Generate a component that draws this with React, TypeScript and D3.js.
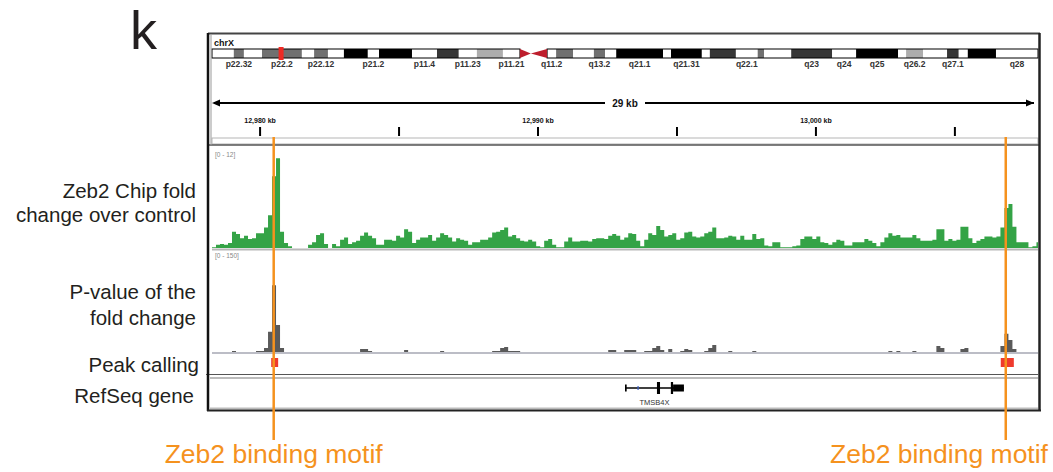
import React from 'react';
import * as d3 from 'd3';

// chrX cytobands, Mb
const bandStart = [0, 4.1, 6.0, 9.4, 16.9, 19.2, 21.8, 24.8, 29.3, 31.4, 37.6, 42.3, 46.4, 49.8, 54.7, 57.9, 63.0, 64.7, 67.9, 71.8, 73.9, 76.0, 84.8, 86.3, 92.1, 93.6, 98.5, 102.6, 103.8, 108.9, 116.6, 121.1, 129.0, 130.5, 133.7, 138.2, 140.4, 142.1, 147.4];
const bandEnd = [4.1, 6.0, 9.4, 16.9, 19.2, 21.8, 24.8, 29.3, 31.4, 37.6, 42.3, 46.4, 49.8, 54.7, 57.9, 63.0, 64.7, 67.9, 71.8, 73.9, 76.0, 84.8, 86.3, 92.1, 93.6, 98.5, 102.6, 103.8, 108.9, 116.6, 121.1, 129.0, 130.5, 133.7, 138.2, 140.4, 142.1, 147.4, 155.3];
const bandStain = ['gneg', 'gpos50', 'gneg', 'gpos50', 'gneg', 'gpos50', 'gneg', 'gpos100', 'gneg', 'gpos100', 'gneg', 'gpos75', 'gneg', 'gpos25', 'gneg', 'acen', 'gneg', 'gpos50', 'gneg', 'gpos50', 'gneg', 'gpos100', 'gneg', 'gpos100', 'gneg', 'gpos75', 'gneg', 'gpos50', 'gneg', 'gpos75', 'gneg', 'gpos100', 'gneg', 'gpos25', 'gneg', 'gpos75', 'gneg', 'gpos100', 'gneg'];
const bandLabel = ['', 'p22.32', '', 'p22.2', '', 'p22.12', '', '', 'p21.2', '', 'p11.4', '', 'p11.23', '', 'p11.21', '', 'q11.2', '', '', 'q13.2', '', 'q21.1', '', 'q21.31', '', '', 'q22.1', '', '', 'q23', 'q24', 'q25', '', 'q26.2', '', 'q27.1', '', '', 'q28'];
const chromName = 'chrX';
const chromLength = 155.3;
const viewMb = 12.99;

// locus, kb
const locusStart = 12978.27;
const locusEnd = 13007.99;
const binKb = 0.144;
const rulerTicks = [12980, 12985, 12990, 12995, 13000, 13005];

const foldChange = [
  0.1, 0.4, 0.5, 0.4, 0.6, 2.0, 1.7, 1.2, 1.5, 1.1,
  1.2, 1.8, 1.8, 2.5, 4.0, 8.8, 11.0, 2.0, 0.6, 0.2,
  0, 0, 0, 0, 0.4, 0.7, 1.6, 1.8, 0.5, 0,
  0.5, 0.2, 1.0, 1.3, 0.5, 0.7, 0.9, 1.5, 1.9, 1.5,
  1.2, 0.4, 0.4, 1.0, 1.0, 0.9, 1.5, 1.3, 2.3, 2.0,
  0.6, 1.0, 1.3, 1.3, 1.6, 0.9, 1.3, 1.8, 1.6, 1.3,
  0.8, 1.2, 1.0, 0.9, 0.4, 0.7, 0.7, 1.0, 1.0, 1.3,
  1.9, 2.0, 2.2, 2.5, 1.4, 1.6, 1.2, 0.9, 0.8, 1.0,
  0.8, 0.2, 0.1, 0.9, 1.1, 0.4, 0.1, 0.1, 0.8, 1.3,
  0.8, 0.8, 0.9, 0.9, 0.8, 1.1, 1.2, 1.2, 1.1, 1.5,
  1.7, 1.5, 1.0, 1.3, 1.8, 1.7, 0.9, 0.2, 1.0, 1.8,
  1.6, 2.7, 2.2, 1.4, 1.6, 1.8, 1.0, 1.2, 1.9, 2.0,
  1.4, 1.3, 1.4, 1.8, 2.0, 2.5, 1.2, 1.2, 1.3, 1.5,
  1.4, 1.0, 1.5, 1.0, 1.0, 1.7, 1.1, 1.2, 0.3, 0.2,
  0.7, 0.7, 0.1, 0.1, 0.1, 0.2, 0.3, 1.1, 1.4, 1.4,
  1.1, 1.4, 0.7, 0.6, 0.4, 0.7, 1.0, 0.9, 0.3, 0.3,
  0.7, 0.7, 0.7, 1.1, 0.9, 0.6, 0.2, 0.7, 1.3, 1.8,
  1.5, 1.6, 1.3, 1.3, 1.3, 1.6, 1.2, 0.9, 0.9, 0.9,
  1.0, 2.3, 2.3, 0.9, 1.1, 0.9, 1.0, 2.6, 2.6, 1.2,
  0.6, 0.9, 1.1, 1.4, 1.4, 1.3, 1.4, 2.5, 4.9, 5.4,
  2.6, 0.7, 0.7, 0.7, 0.1, 0.2, 0.7,
];

const pValue = [
  0, 0, 0, 0, 0, 1.5, 0, 0, 0, 0,
  0, 1.5, 1.5, 6, 30, 99, 40, 6, 0, 0,
  0, 0, 0, 0, 0, 0, 0, 0, 0, 0,
  0, 0, 0, 0, 0, 0, 0, 4.5, 4.5, 1.5,
  0, 0, 0, 0, 0, 0, 0, 0, 3, 0,
  0, 0, 0, 0, 0, 0, 0, 1.5, 0, 0,
  0, 0, 0, 0, 0, 0, 0, 0, 0, 0,
  1.5, 1.5, 6, 7.5, 1.5, 1.5, 1.5, 0, 0, 0,
  0, 0, 0, 0, 0, 0, 0, 0, 0, 0,
  0, 0, 0, 0, 0, 0, 0, 0, 0, 3,
  3, 0, 0, 3, 3, 3, 0, 0, 1.5, 1.5,
  6, 9, 3, 0, 4.5, 0, 0, 1.5, 4.5, 3,
  0, 0, 0, 1.5, 6, 10.5, 0, 0, 0, 1.5,
  0, 0, 0, 0, 0, 1.5, 0, 0, 0, 0,
  0, 0, 0, 0, 0, 0, 0, 0, 0, 0,
  0, 0, 0, 0, 0, 0, 0, 0, 0, 0,
  0, 0, 0, 0, 0, 0, 0, 0, 0, 1.5,
  0, 1.5, 0, 0, 0, 1.5, 0, 0, 0, 0,
  0, 9, 6, 0, 0, 0, 0, 4.5, 6, 0,
  0, 0, 0, 0, 0, 0, 0, 9, 27, 18,
  4.5, 0, 0, 0, 0, 0, 0,
];
const foldRange = [0, 12];
const pValueRange = [0, 150];

const peakStart = [12980.40, 13006.65];
const peakEnd = [12980.65, 13007.12];
const motifPos = [12980.49, 13006.83];
const motifLabel = ['Zeb2 binding motif', 'Zeb2 binding motif'];

const geneName = 'TMSB4X';
const geneStart = 12993.13;
const geneEnd = 12995.25;
const exonStart = [12993.13, 12994.28, 12994.78, 12994.86];
const exonEnd = [12993.19, 12994.39, 12994.86, 12995.25];
const exonCoding = [false, true, true, false];
const strandMark = 12993.60;

const trackNames = [['Zeb2 Chip fold', 'change over control'], ['P-value of the', 'fold change'], ['Peak calling'], ['RefSeq gene']];

const stainColor: Record<string, string> = {
  gneg: '#ffffff', gpos25: '#adadad', gpos50: '#707070', gpos75: '#363636', gpos100: '#000000',
};

const FONT = 'Arial, "Liberation Sans", Helvetica, sans-serif';
const ORANGE = '#f5921e';

type Bin = { kb: number; v: number };
const toBins = (vals: number[]): Bin[] => {
  const pts = vals.map((v, i) => ({ kb: locusStart + i * binKb, v }));
  pts.push({ kb: locusStart + vals.length * binKb, v: vals[vals.length - 1] });
  return pts;
};

export default function App() {
  const left = 212, right = 1038;
  const x = d3.scaleLinear().domain([locusStart, locusEnd]).range([left, right]);
  const cx = d3.scaleLinear().domain([0, chromLength]).range([left, right]);

  const foldY = d3.scaleLinear().domain(foldRange).range([248, 150]);
  const pY = d3.scaleLinear().domain(pValueRange).range([352, 251]);

  const foldArea = d3.area<Bin>().curve(d3.curveStepAfter)
    .x(d => x(d.kb)).y0(foldY(0)).y1(d => foldY(d.v));
  const pArea = d3.area<Bin>().curve(d3.curveStepAfter)
    .x(d => x(d.kb)).y0(pY(0)).y1(d => pY(d.v));

  const ideoTop = 49, ideoBot = 58;
  const acen = bandStain.indexOf('acen');
  const cenMid = (bandStart[acen] + bandEnd[acen]) / 2 - 0.5;
  const fmt = d3.format(',');
  const spanKb = Math.floor(locusEnd - locusStart);
  const arrowY = 103;
  const geneY = 388;

  // label layout: baseline of first line, line step, right edge
  const nameBase = [198, 299, 372, 403];
  const nameStep = [24, 26, 0, 0];
  const nameRight = [196, 196, 199, 194];

  return (
    <svg width={1053} height={472} style={{ position: 'absolute', left: 0, top: 0, display: 'block', background: '#fff' }}
      fontFamily={FONT}>
      <defs>
        <clipPath id="dataClip"><rect x={left} y={140} width={right - left} height={270} /></clipPath>
      </defs>

      {/* panel letter */}
      <text x={130} y={49} fontSize={54} fill="#231f20">k</text>

      {/* track names */}
      {trackNames.map((lines, i) => lines.map((s, j) => (
        <text key={`${i}-${j}`} x={nameRight[i]} y={nameBase[i] + j * nameStep[i]} fontSize={20.5}
          textAnchor="end" fill="#231f20">{s}</text>
      )))}

      {/* header: ideogram */}
      <text x={214} y={46} fontSize={9} fontWeight="bold" fill="#111">{chromName}</text>
      {bandStart.map((s, i) => bandStain[i] === 'acen' ? null : (
        <rect key={i} x={cx(s)} y={ideoTop} width={cx(bandEnd[i]) - cx(s)} height={ideoBot - ideoTop}
          fill={stainColor[bandStain[i]]} />
      ))}
      <rect x={cx(0)} y={ideoTop} width={cx(bandStart[acen]) - cx(0)} height={ideoBot - ideoTop} fill="none" stroke="#000" strokeWidth={1} />
      <rect x={cx(bandEnd[acen])} y={ideoTop} width={cx(chromLength) - cx(bandEnd[acen])} height={ideoBot - ideoTop} fill="none" stroke="#000" strokeWidth={1} />
      <path d={`M${cx(bandStart[acen])},${ideoTop} L${cx(cenMid)},${(ideoTop + ideoBot) / 2} L${cx(bandStart[acen])},${ideoBot} Z`} fill="#be1e2d" />
      <path d={`M${cx(bandEnd[acen])},${ideoTop} L${cx(cenMid)},${(ideoTop + ideoBot) / 2} L${cx(bandEnd[acen])},${ideoBot} Z`} fill="#be1e2d" />
      <rect x={cx(viewMb) - 2.5} y={ideoTop - 2} width={5} height={ideoBot - ideoTop + 4} fill="#ee2a24" />
      {bandLabel.map((l, i) => l ? (
        <text key={i} x={cx((bandStart[i] + bandEnd[i]) / 2)} y={67} fontSize={8.5} fontWeight="bold" textAnchor="middle" fill="#333">{l}</text>
      ) : null)}

      {/* span arrow */}
      <line x1={left + 2} x2={right - 4} y1={arrowY} y2={arrowY} stroke="#000" strokeWidth={2} />
      <path d={`M${left},${arrowY} l8,-3.5 l0,7 Z`} fill="#000" />
      <path d={`M${right - 4},${arrowY} l-8,-3.5 l0,7 Z`} fill="#000" />
      <rect x={(left + right) / 2 - 20} y={arrowY - 6} width={40} height={12} fill="#fff" />
      <text x={(left + right) / 2} y={arrowY + 4} fontSize={10} fontWeight="bold" textAnchor="middle" fill="#111">{spanKb} kb</text>

      {/* ruler */}
      {rulerTicks.map(t => (
        <g key={t}>
          <line x1={x(t)} x2={x(t)} y1={127} y2={136} stroke="#000" strokeWidth={2} />
          {t % 10 === 0 && (
            <text x={x(t)} y={123} fontSize={7} fontWeight="bold" textAnchor="middle" fill="#111">{fmt(t)} kb</text>
          )}
        </g>
      ))}
      <rect x={left} y={138} width={right - left} height={6} fill="#fff" stroke="#b5b5b5" strokeWidth={1} />
      <line x1={208} x2={1040} y1={145} y2={145} stroke="#555" strokeWidth={1.5} />

      {/* data tracks */}
      <g clipPath="url(#dataClip)">
        <path d={foldArea(toBins(foldChange)) ?? ''} fill="#34a346" />
        <path d={pArea(toBins(pValue)) ?? ''} fill="#5a5a5a" />
      </g>
      <text x={215} y={157} fontSize={6.5} fill="#888">[{foldRange[0]} - {foldRange[1]}]</text>
      <text x={215} y={258} fontSize={6.5} fill="#888">[{pValueRange[0]} - {pValueRange[1]}]</text>
      <line x1={left} x2={right} y1={249.5} y2={249.5} stroke="#b8b8b8" strokeWidth={2} />
      <line x1={left} x2={right} y1={353} y2={353} stroke="#bcbdc6" strokeWidth={2} />

      {/* peak calls */}
      {peakStart.map((s, i) => (
        <rect key={i} x={x(s)} y={358} width={x(peakEnd[i]) - x(s)} height={9} fill="#ef3a2d" />
      ))}
      <line x1={206} x2={right} y1={374.5} y2={374.5} stroke="#555" strokeWidth={1} />
      <line x1={210} x2={right} y1={378} y2={378} stroke="#bbb" strokeWidth={2} />

      {/* refseq gene */}
      <line x1={x(geneStart)} x2={x(geneEnd)} y1={geneY} y2={geneY} stroke="#000" strokeWidth={1.5} />
      {exonStart.map((s, i) => {
        const h = exonCoding[i] ? 12 : 7;
        return <rect key={i} x={x(s)} y={geneY - h / 2} width={Math.max(1.5, x(exonEnd[i]) - x(s))} height={h} fill="#000" />;
      })}
      <line x1={x(strandMark)} x2={x(strandMark)} y1={geneY - 2} y2={geneY + 2} stroke="#3a62c9" strokeWidth={1.2} />
      <text x={x((geneStart + geneEnd) / 2)} y={405} fontSize={7.5} textAnchor="middle" fill="#333">{geneName}</text>
      <line x1={210} x2={right} y1={408.5} y2={408.5} stroke="#bbb" strokeWidth={2} />

      {/* frame */}
      <line x1={208} x2={1040} y1={33.5} y2={33.5} stroke="#444" strokeWidth={2} />
      <line x1={208} x2={208} y1={33} y2={411} stroke="#111" strokeWidth={2.5} />
      <line x1={1039.5} x2={1039.5} y1={33} y2={411} stroke="#222" strokeWidth={2.5} />
      <line x1={207} x2={1041} y1={410.5} y2={410.5} stroke="#222" strokeWidth={2} />
      <line x1={211} x2={211} y1={35} y2={145} stroke="#999" strokeWidth={1} />

      {/* motif markers */}
      {motifPos.map((m, i) => (
        <line key={i} x1={x(m)} x2={x(m)} y1={137} y2={440} stroke={ORANGE} strokeWidth={2.5} />
      ))}
      <text x={x(motifPos[0])} y={463} fontSize={26.5} textAnchor="middle" fill={ORANGE}>{motifLabel[0]}</text>
      <text x={1048} y={463} fontSize={26.5} textAnchor="end" fill={ORANGE}>{motifLabel[1]}</text>
    </svg>
  );
}
